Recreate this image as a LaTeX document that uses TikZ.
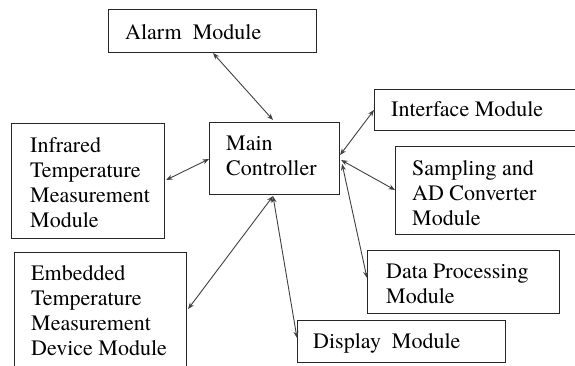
\documentclass[tikz,border=0pt]{standalone}
\usepackage{fontspec}
\setmainfont{texgyretermes}[Extension=.otf, UprightFont=*-regular, BoldFont=*-bold]
\usetikzlibrary{arrows.meta,calc}

\tikzset{
  module/.style={draw=black!85, line width=1.1pt, fill=white, anchor=north west,
    inner sep=0pt},
  label text/.style={anchor=north west, inner sep=0pt, align=left,
    font=\fontsize{22}{25}\selectfont},
  link/.style={draw=black!75, line width=0.9pt,
    {Stealth[length=6.5pt,width=5pt]}-{Stealth[length=6.5pt,width=5pt]}}
}

\begin{document}
\begin{tikzpicture}[x=1pt,y=-1pt]
  \useasboundingbox (0,0) rectangle (575,366);
  \clip (0,0) rectangle (575,366);

  % module boxes
  \node[module, minimum width=208pt, minimum height=43pt]  (alarm)     at (108,9)   {};
  \node[module, minimum width=153pt, minimum height=115pt] (infrared)  at (11,123)  {};
  \node[module, minimum width=130pt, minimum height=72pt]  (main)      at (209,122) {};
  \node[module, minimum width=226pt, minimum height=41pt]  (interface) at (374,89)  {};
  \node[module, minimum width=205pt, minimum height=88pt]  (sampling)  at (395,146) {};
  \node[module, minimum width=172pt, minimum height=126pt] (embedded)  at (14,252)  {};
  \node[module, minimum width=192pt, minimum height=63pt]  (data)      at (367,250) {};
  \node[module, minimum width=208pt, minimum height=42pt]  (display)   at (297,320) {};

  % box captions
  \node[label text] (alarm-t)     at (125,24)  {Alarm\ \ Module};
  \node[label text] (infrared-t)  at (30,137)  {Infrared\\Temperature\\Measurement\\Module};
  \node[label text] (main-t)      at (226,136) {Main\\Controller};
  \node[label text] (interface-t) at (391,101) {Interface Module};
  \node[label text] (sampling-t)  at (412,160) {Sampling and\\AD Converter\\Module};
  \node[label text] (embedded-t)  at (31,265)  {Embedded\\Temperature\\Measurement\\Device Module};
  \node[label text] (data-t)      at (386,264) {Data Processing\\Module};
  \node[label text] (display-t)   at (313,333) {Display\ \ Module};

  % bidirectional links to the main controller
  \draw[link] ($(alarm.south west)+(105,0)$)    -- ($(main.north west)+(64,-2)$);
  \draw[link] ($(infrared.north east)+(1,57)$)  -- ($(main.north west)+(0,37)$);
  \draw[link] ($(interface.north west)+(0,21)$) -- ($(main.north east)+(0,33)$);
  \draw[link] ($(main.north east)+(1,38)$)      -- ($(sampling.north west)+(0,44)$);
  \draw[link] ($(main.north east)+(2,42)$)      -- ($(data.north west)+(0,28)$);
  \draw[link] ($(main.south west)+(64,1)$)      -- ($(display.north west)+(0,18)$);
  \draw[link] ($(main.south west)+(64,1)$)      -- ($(embedded.north east)+(1,57)$);
\end{tikzpicture}
\end{document}
